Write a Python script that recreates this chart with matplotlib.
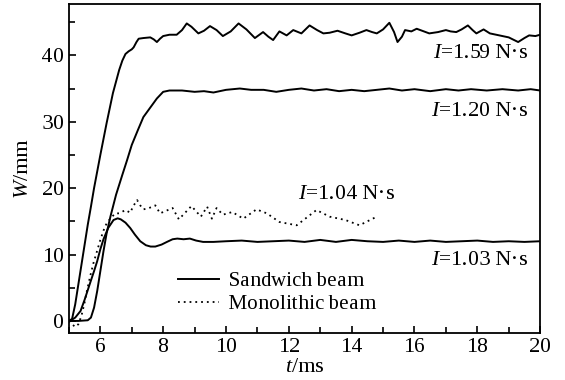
import numpy as np
import matplotlib.pyplot as plt
from matplotlib.ticker import MultipleLocator

plt.rcParams['font.family'] = ['Liberation Serif', 'DejaVu Serif']
plt.rcParams['mathtext.fontset'] = 'custom'
plt.rcParams['mathtext.rm'] = 'Liberation Serif'
plt.rcParams['mathtext.it'] = 'Liberation Serif:italic'
plt.rcParams['text.hinting_factor'] = 1

# sandwich beam, I=1.59 N.s
t_159 = [5.0, 5.1, 5.2, 5.3, 5.4, 5.5, 5.6, 5.7, 5.8, 6.0, 6.2, 6.4, 6.6, 6.7, 6.8, 6.9,
         7.0, 7.06, 7.15, 7.22, 7.37, 7.59, 7.7, 7.8, 7.9, 8.0, 8.2, 8.43, 8.6, 8.75, 8.9,
         9.12, 9.3, 9.49, 9.7, 9.9, 10.15, 10.4, 10.65, 10.92, 11.18, 11.35, 11.5, 11.7,
         11.93, 12.14, 12.4, 12.66, 12.9, 13.1, 13.3, 13.55, 13.8, 14.0, 14.25, 14.47,
         14.65, 14.8, 15.0, 15.2, 15.35, 15.46, 15.6, 15.7, 15.9, 16.07, 16.3, 16.47,
         16.75, 17.0, 17.15, 17.33, 17.5, 17.7, 17.85, 17.97, 18.2, 18.4, 18.7, 19.0,
         19.3, 19.5, 19.65, 19.85, 20.0]
w_159 = [0.0, 0.3, 2.5, 5.5, 8.5, 11.5, 14.5, 17.2, 20.0, 25.0, 29.8, 34.3, 37.8, 39.2, 40.2, 40.6,
         40.9, 41.2, 42.0, 42.5, 42.6, 42.7, 42.4, 42.0, 42.5, 42.9, 43.1, 43.1, 43.8, 44.8, 44.3,
         43.3, 43.7, 44.4, 43.8, 42.9, 43.6, 44.8, 43.9, 42.6, 43.5, 42.8, 42.3, 43.6,
         43.0, 43.8, 43.3, 44.5, 43.8, 43.3, 43.4, 43.7, 43.3, 43.0, 43.4, 43.8,
         43.5, 43.3, 43.9, 44.9, 43.5, 42.0, 42.8, 43.8, 43.6, 44.0, 43.6, 43.3,
         43.5, 43.8, 43.6, 43.5, 43.9, 44.5, 43.8, 43.3, 43.9, 43.3, 43.0, 42.7,
         42.0, 42.6, 43.0, 42.9, 43.1]

# sandwich beam, I=1.20 N.s
t_120 = [5.0, 5.3, 5.6, 5.7, 5.8, 5.9, 6.0, 6.1, 6.2, 6.32, 6.5, 6.7, 6.85, 7.0, 7.2, 7.37,
         7.6, 7.8, 8.0, 8.2, 8.6, 9.0, 9.3, 9.6, 10.0, 10.44, 10.8, 11.2, 11.6, 12.0, 12.4,
         12.8, 13.2, 13.6, 14.0, 14.4, 14.8, 15.2, 15.6, 16.0, 16.5, 17.0, 17.4, 17.8,
         18.3, 18.8, 19.3, 19.7, 20.0]
w_120 = [0.0, 0.0, 0.1, 0.5, 2.0, 4.5, 7.5, 10.5, 13.2, 15.7, 19.0, 22.0, 24.2, 26.5, 28.8, 30.7,
         32.2, 33.5, 34.5, 34.7, 34.7, 34.5, 34.6, 34.4, 34.8, 35.0, 34.8, 34.8, 34.5, 34.8, 35.0,
         34.7, 34.9, 34.6, 34.8, 34.6, 34.8, 35.0, 34.7, 34.9, 34.6, 34.9, 34.7, 34.9,
         34.7, 34.9, 34.7, 34.9, 34.7]

# sandwich beam, I=1.03 N.s
t_103 = [5.0, 5.1, 5.2, 5.37, 5.5, 5.68, 5.8, 5.9, 6.0, 6.1, 6.25, 6.42, 6.55, 6.65, 6.8,
         6.95, 7.1, 7.27, 7.45, 7.6, 7.75, 7.95, 8.12, 8.3, 8.45, 8.65, 8.85, 9.05, 9.27,
         9.6, 10.0, 10.5, 11.0, 11.5, 12.0, 12.5, 13.0, 13.5, 14.0, 14.5, 15.0, 15.5,
         16.0, 16.5, 17.0, 17.5, 18.0, 18.5, 19.0, 19.5, 20.0]
w_103 = [0.0, 0.2, 0.5, 1.5, 3.2, 5.8, 7.5, 9.0, 10.8, 12.3, 14.0, 15.2, 15.45, 15.3, 14.8,
         14.0, 13.0, 12.0, 11.4, 11.2, 11.2, 11.5, 11.9, 12.3, 12.4, 12.3, 12.4, 12.1, 11.9,
         11.9, 12.0, 12.1, 11.9, 12.0, 12.1, 11.9, 12.2, 11.9, 12.2, 12.0, 11.9, 12.1,
         11.9, 12.1, 11.9, 12.0, 12.1, 11.9, 12.0, 11.9, 12.0]

# monolithic beam, I=1.04 N.s
t_104 = [5.0, 5.1, 5.2, 5.3, 5.4, 5.5, 5.58, 5.68, 5.78, 5.9, 6.0, 6.1, 6.2, 6.35, 6.48,
         6.6, 6.8, 6.95, 7.05, 7.17, 7.27, 7.37, 7.55, 7.75, 7.9, 8.1, 8.3, 8.5, 8.7, 8.9,
         9.05, 9.2, 9.4, 9.55, 9.7, 9.9, 10.2, 10.55, 10.97, 11.3, 11.7, 12.25, 12.88,
         13.3, 13.8, 14.25, 14.5, 14.8]
w_104 = [0.0, -0.5, -0.9, -0.5, 0.8, 2.8, 4.7, 6.8, 8.7, 10.6, 12.2, 13.6, 14.7, 15.6, 16.2,
         16.2, 16.7, 16.3, 17.3, 18.2, 17.4, 16.8, 17.0, 17.4, 16.2, 16.6, 17.0, 15.3, 16.3, 17.3,
         16.5, 15.7, 17.2, 15.4, 17.0, 16.0, 16.4, 15.4, 16.8, 16.2, 14.9, 14.4, 16.7,
         15.7, 15.2, 14.4, 15.0, 15.7]

fig = plt.figure(figsize=(5.65, 3.8), dpi=100)
ax = fig.add_axes([0.122, 0.124, 0.834, 0.865])

ax.plot(t_159, w_159, color='black', lw=1.4, label='Sandwich beam')
ax.plot(t_120, w_120, color='black', lw=1.4)
ax.plot(t_103, w_103, color='black', lw=1.4)
ax.plot(t_104, w_104, color='black', lw=1.3, linestyle=(0, (1, 2.2)), label='Monolithic beam')

ax.text(19.6, 40.3, r'$I$=1.59 N·s', ha='right', va='center', fontsize=16)
ax.text(19.6, 31.6, r'$I$=1.20 N·s', ha='right', va='center', fontsize=16)
ax.text(12.3, 19.0, r'$I$=1.04 N·s', ha='left', va='center', fontsize=16)
ax.text(19.6, 9.1, r'$I$=1.03 N·s', ha='right', va='center', fontsize=16)

ax.legend(loc='upper left', bbox_to_anchor=(0.2, 0.23), frameon=False, fontsize=15,
          handlelength=2.0, handletextpad=0.45, labelspacing=0.15, borderpad=0.2)

ax.set_xlim(5, 20)
ax.set_ylim(-1.8, 47.7)
ax.xaxis.set_major_locator(MultipleLocator(2))
ax.xaxis.set_minor_locator(MultipleLocator(1))
ax.yaxis.set_major_locator(MultipleLocator(10))
ax.yaxis.set_minor_locator(MultipleLocator(5))
ax.tick_params(which='both', direction='in', labelsize=15.5, width=1.2)
ax.tick_params(which='major', length=5)
ax.tick_params(which='minor', length=4)
for s in ax.spines.values():
    s.set_linewidth(1.3)

ax.set_xlabel(r'$t$/ms', fontsize=16, labelpad=1)
ax.set_ylabel(r'$W$/mm', fontsize=16, labelpad=6)

fig.savefig('out.png', dpi=100)
